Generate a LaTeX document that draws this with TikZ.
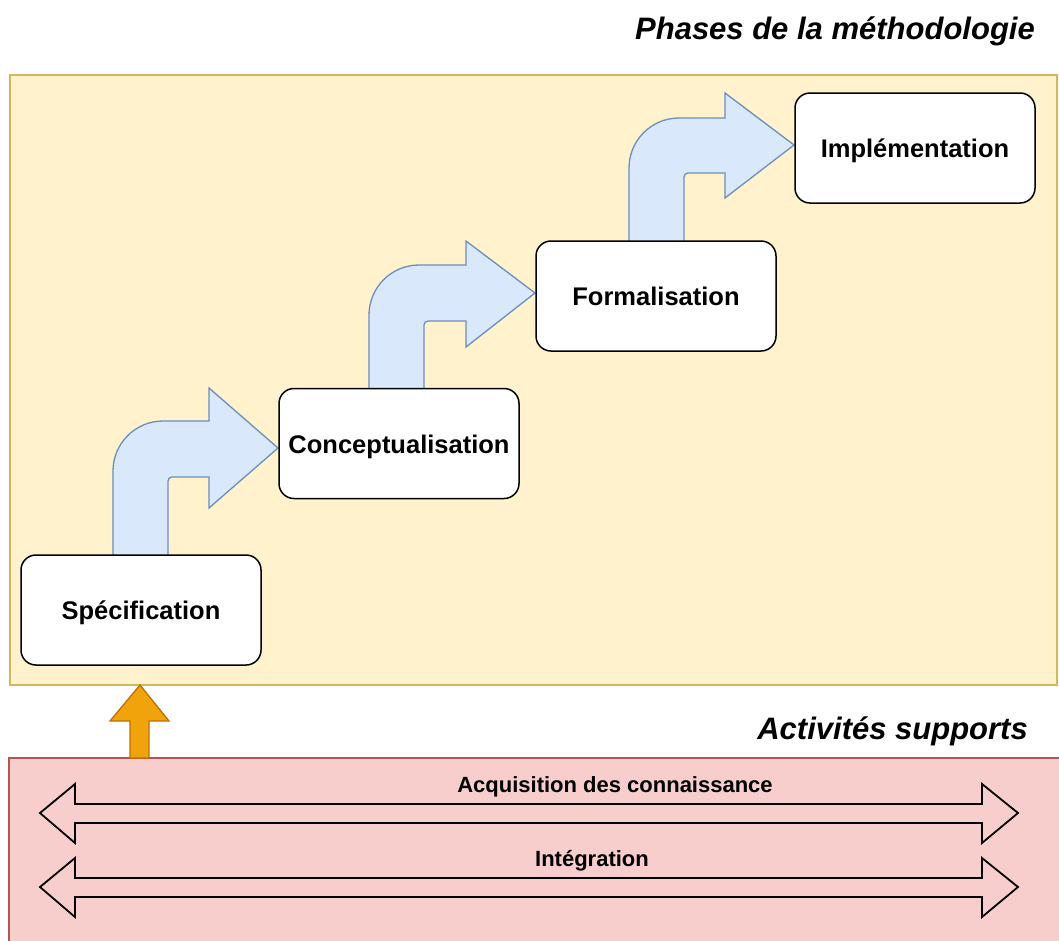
\documentclass[tikz,border=0pt]{standalone}
\usepackage{fontspec}
\setmainfont{Liberation Sans}
\definecolor{yfill}{HTML}{FFF2CC}
\definecolor{ydraw}{HTML}{D6B656}
\definecolor{pfill}{HTML}{F8CECC}
\definecolor{pdraw}{HTML}{B85450}
\definecolor{bfill}{HTML}{DAE8FC}
\definecolor{bdraw}{HTML}{6C8EBF}
\definecolor{ofill}{HTML}{F0A30A}
\definecolor{odraw}{HTML}{BD7000}
\tikzset{
  phase/.style={draw=black, fill=white, line width=1.5pt, rounded corners=15pt,
    minimum width=240pt, minimum height=110pt, inner sep=0pt,
    text height=22pt, text depth=3pt,
    font=\bfseries\fontsize{25.5}{30}\selectfont},
  bent/.style={draw=bdraw, fill=bfill, line width=1.3pt, line join=miter},
  dbl/.style={draw=black, fill=pfill, line width=1.8pt, line join=miter},
  title/.style={font=\bfseries\itshape\fontsize{31}{36}\selectfont, inner sep=0pt},
  lbl/.style={font=\bfseries\fontsize{22}{26}\selectfont, inner sep=0pt}
}
\newcommand{\bentarr}[9]{% xl xr ybot bandtop bandbot headx headtop headbot tip(x,y)
  \path[bent] (#1,#3) -- (#1,#4+50) arc[start angle=180,end angle=270,radius=50] -- (#6,#4)
    -- (#6,#7) -- #9 -- (#6,#8) -- (#6,#5) -- (#2+4,#5)
    arc[start angle=270,end angle=180,radius=4] -- (#2,#3) -- cycle;}
\begin{document}
\begin{tikzpicture}[x=1pt,y=-1pt]
\useasboundingbox (0,0) rectangle (1059,940);
% panels
\path[fill=yfill, draw=ydraw, line width=1.3pt] (10,75) rectangle (1057,685);
\begin{scope}
\clip (0,0) rectangle (1059,940);
\path[fill=pfill, draw=pdraw, line width=1.3pt] (9,758) rectangle (1065,945);
\end{scope}
% titles
\node[title, anchor=east] (t1) at (1035,31) {Phases de la méthodologie};
\node[title, anchor=east] (t2) at (1028,731) {Activités supports};
% bent arrows
\bentarr{113}{168}{556}{421}{477}{209}{388}{508}{(278,448)}
\bentarr{369}{424}{391}{265}{321}{466}{241}{347}{(535,293)}
\bentarr{629}{684}{243}{118}{173}{725}{93}{198}{(794,145)}
% phases
\node[phase] (spec) at (141,610) {Spécification};
\node[phase] (conc) at (399,443.5) {Conceptualisation};
\node[phase] (form) at (656,296) {Formalisation};
\node[phase] (impl) at (915,148) {Implémentation};
% orange arrow
\path[fill=ofill, draw=odraw, line width=1.3pt, line join=miter]
  (140,685) -- (169,721) -- (149,721) -- (149,758) -- (130,758) -- (130,721) -- (110,721) -- cycle;
% double arrows
\path[dbl] (40,813) -- (75,784) -- (75,804) -- (982,804) -- (982,784) -- (1018,813)
  -- (982,843) -- (982,823) -- (75,823) -- (75,843) -- cycle;
\path[dbl] (40,887) -- (75,858) -- (75,878) -- (982,878) -- (982,858) -- (1018,887)
  -- (982,917) -- (982,897) -- (75,897) -- (75,917) -- cycle;
\node[lbl] (l1) at (615,787) {Acquisition des connaissance};
\node[lbl] (l2) at (592,861) {Intégration};
\end{tikzpicture}
\end{document}
